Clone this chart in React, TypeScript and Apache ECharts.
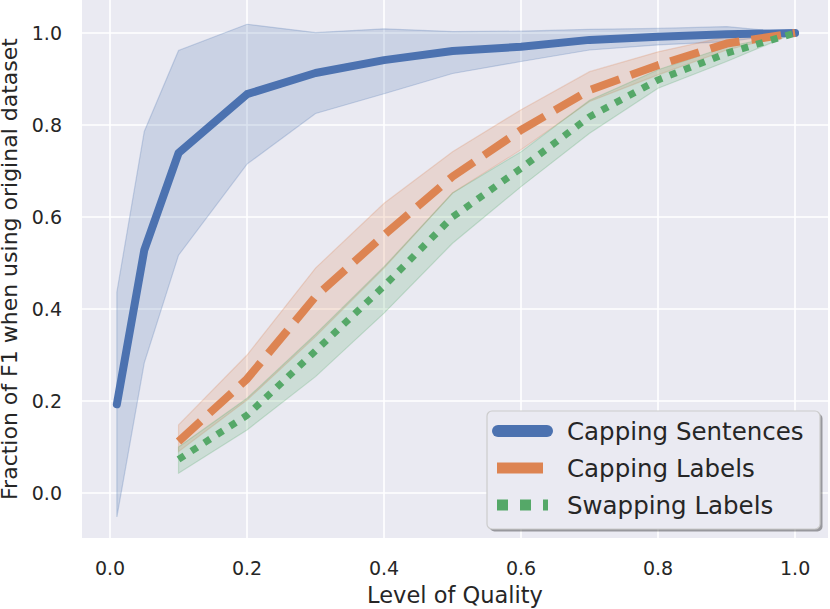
import React, { useEffect, useRef } from "react";
import * as echarts from "echarts";

const xTicks = [0, 0.2, 0.4, 0.6, 0.8, 1.0];
const yTicks = [0, 0.2, 0.4, 0.6, 0.8, 1.0];

const xSent = [0.01, 0.05, 0.1, 0.2, 0.3, 0.4, 0.5, 0.6, 0.7, 0.8, 0.9, 1.0];
const sentMean = [0.193, 0.528, 0.739, 0.867, 0.913, 0.941, 0.961, 0.970, 0.985, 0.992, 0.997, 1.0];
const sentLow = [-0.052, 0.283, 0.517, 0.715, 0.825, 0.868, 0.912, 0.938, 0.963, 0.974, 0.981, 1.0];
const sentHigh = [0.437, 0.786, 0.962, 1.019, 1.001, 1.009, 1.003, 1.004, 1.008, 1.01, 1.014, 1.0];

const xLab = [0.1, 0.2, 0.3, 0.4, 0.5, 0.6, 0.7, 0.8, 0.9, 1.0];
const capMean = [0.112, 0.248, 0.427, 0.561, 0.688, 0.789, 0.876, 0.93, 0.977, 1.0];
const capLow = [0.09, 0.202, 0.34, 0.489, 0.652, 0.746, 0.851, 0.909, 0.963, 1.0];
const capHigh = [0.148, 0.3, 0.489, 0.63, 0.742, 0.833, 0.916, 0.959, 0.992, 1.0];

const swapMean = [0.073, 0.169, 0.309, 0.45, 0.6, 0.706, 0.818, 0.898, 0.956, 1.0];
const swapLow = [0.043, 0.137, 0.253, 0.391, 0.543, 0.666, 0.782, 0.88, 0.938, 1.0];
const swapHigh = [0.1, 0.206, 0.345, 0.492, 0.652, 0.742, 0.854, 0.92, 0.97, 1.0];

const seriesNames = ["Capping Sentences", "Capping Labels", "Swapping Labels"];

const BLUE = "#4C72B0";
const ORANGE = "#DD8452";
const GREEN = "#55A868";
const FONT = "DejaVu Sans";
const TXT = "#262626";

function rgba(hex: string, a: number) {
  const r = parseInt(hex.slice(1, 3), 16);
  const g = parseInt(hex.slice(3, 5), 16);
  const b = parseInt(hex.slice(5, 7), 16);
  return `rgba(${r},${g},${b},${a})`;
}

function band(name: string, xs: number[], lo: number[], hi: number[], color: string) {
  return {
    type: "custom",
    name: name + " band",
    z: 1,
    silent: true,
    data: xs.map((v, i) => [v, lo[i], hi[i]]),
    encode: { x: 0, y: [1, 2] },
    renderItem: (params: any, api: any) => {
      if (params.dataIndex !== 0) return undefined;
      const pts: number[][] = [];
      for (let i = 0; i < xs.length; i++) pts.push(api.coord([xs[i], hi[i]]));
      for (let i = xs.length - 1; i >= 0; i--) pts.push(api.coord([xs[i], lo[i]]));
      return {
        type: "polygon",
        shape: { points: pts },
        style: { fill: rgba(color, 0.2), stroke: rgba(color, 0.25), lineWidth: 1.2 },
      };
    },
  };
}

function line(name: string, xs: number[], ys: number[], color: string, lineStyle: any) {
  return {
    type: "line",
    name,
    z: 3,
    symbol: "none",
    showSymbol: false,
    data: xs.map((v, i) => [v, ys[i]]),
    lineStyle: { color, ...lineStyle },
    itemStyle: { color },
  };
}

export default function App() {
  const ref = useRef<HTMLDivElement>(null);
  useEffect(() => {
    if (!ref.current) return;
    const chart = echarts.init(ref.current, undefined, { renderer: "svg" });
    const lx = 487, ly = 411, lw = 333, lh = 118;
    const rows = [431, 468, 505];
    const Z = 100;
    const option: any = {
      animation: false,
      backgroundColor: "#ffffff",
      textStyle: { fontFamily: FONT },
      grid: {
        left: 82,
        right: 2,
        top: 0,
        bottom: 71,
        show: true,
        backgroundColor: "#EAEAF2",
        borderWidth: 0,
        containLabel: false,
        outerBoundsMode: "none",
      },
      xAxis: {
        type: "value",
        min: -0.0409,
        max: 1.048,
        name: "Level of Quality",
        nameLocation: "middle",
        nameGap: 45,
        nameTextStyle: { fontFamily: FONT, fontSize: 22.5, color: TXT },
        axisLine: { show: false },
        axisTick: { show: false, customValues: xTicks },
        axisLabel: {
          customValues: xTicks,
          formatter: (v: number) => v.toFixed(1),
          fontFamily: FONT,
          fontSize: 19,
          color: TXT,
          margin: 20,
        },
        splitLine: { show: true, lineStyle: { color: "#ffffff", width: 1.6 } },
      },
      yAxis: {
        type: "value",
        min: -0.0978,
        max: 1.0717,
        name: "Fraction of F1 when using original dataset",
        nameLocation: "middle",
        nameGap: 56,
        nameTextStyle: { fontFamily: FONT, fontSize: 22, color: TXT },
        axisLine: { show: false },
        axisTick: { show: false, customValues: yTicks },
        axisLabel: {
          customValues: yTicks,
          formatter: (v: number) => v.toFixed(1),
          fontFamily: FONT,
          fontSize: 19,
          color: TXT,
          margin: 20,
        },
        splitLine: { show: true, lineStyle: { color: "#ffffff", width: 1.6 } },
      },
      series: [
        band(seriesNames[0], xSent, sentLow, sentHigh, BLUE),
        band(seriesNames[1], xLab, capLow, capHigh, ORANGE),
        band(seriesNames[2], xLab, swapLow, swapHigh, GREEN),
        line(seriesNames[0], xSent, sentMean, BLUE, { width: 8, cap: "round", join: "round" }),
        line(seriesNames[1], xLab, capMean, ORANGE, { width: 8, type: [30, 12], cap: "butt", join: "round" }),
        line(seriesNames[2], xLab, swapMean, GREEN, { width: 7, type: [7, 8.3], cap: "butt", join: "round" }),
      ],
      graphic: [
        {
          type: "rect",
          z: Z,
          shape: { x: lx + 2.5, y: ly + 2.5, width: lw, height: lh, r: 5 },
          style: { fill: "rgba(0,0,0,0.35)" },
        },
        {
          type: "rect",
          z: Z + 1,
          shape: { x: lx, y: ly, width: lw, height: lh, r: 5 },
          style: { fill: "#EAEAF2", stroke: "#cccccc", lineWidth: 1.2 },
        },
        {
          type: "line",
          z: Z + 2,
          shape: { x1: 498, y1: rows[0], x2: 547, y2: rows[0] },
          style: { stroke: BLUE, lineWidth: 12, lineCap: "round" },
        },
        {
          type: "line",
          z: Z + 2,
          shape: { x1: 497, y1: rows[1], x2: 543, y2: rows[1] },
          style: { stroke: ORANGE, lineWidth: 11, lineCap: "butt" },
        },
        {
          type: "line",
          z: Z + 2,
          shape: { x1: 497, y1: rows[2], x2: 548, y2: rows[2] },
          style: { stroke: GREEN, lineWidth: 11, lineCap: "butt", lineDash: [11, 12] },
        },
        ...seriesNames.map((n, i) => ({
          type: "text",
          z: Z + 2,
          x: 567,
          y: rows[i],
          style: {
            text: n,
            fontFamily: FONT,
            fontSize: 24.5,
            fill: TXT,
            verticalAlign: "middle",
            align: "left",
          },
        })),
      ],
    };
    chart.setOption(option);
    return () => chart.dispose();
  }, []);
  return (
    <div
      ref={ref}
      style={{ position: "absolute", left: 0, top: 0, width: 830, height: 609 }}
    />
  );
}
